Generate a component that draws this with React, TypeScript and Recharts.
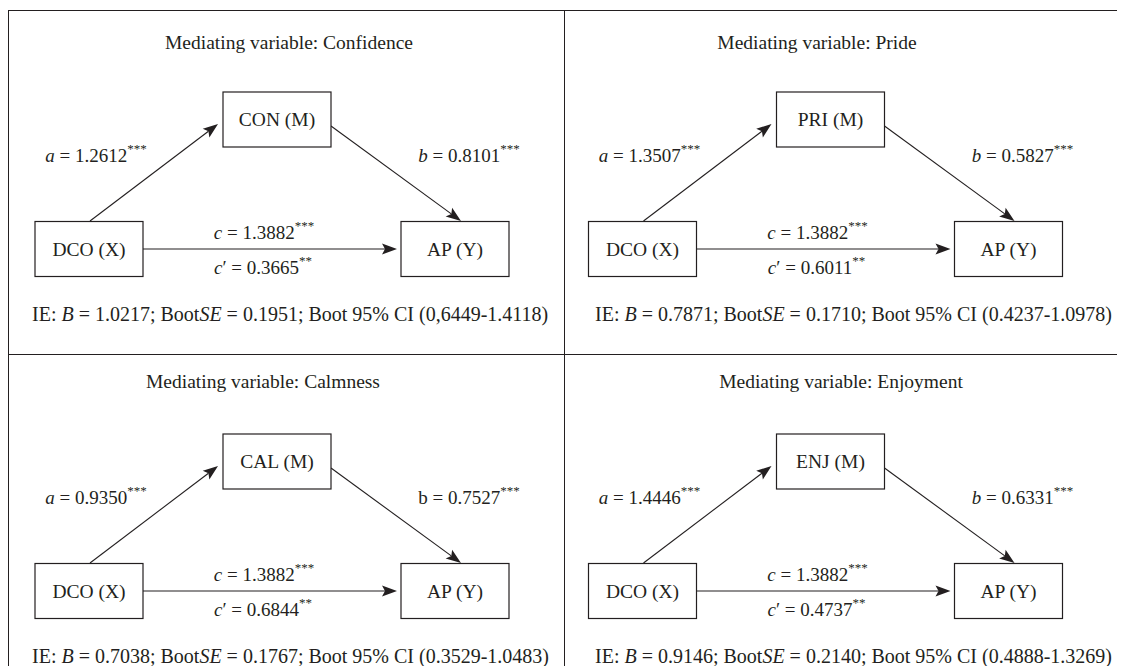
import React from "react";
import { ScatterChart, Scatter, XAxis, YAxis, ReferenceLine } from "recharts";

// values
const mediators = ["Confidence", "Pride", "Calmness", "Enjoyment"];
const mediatorCodes = ["CON", "PRI", "CAL", "ENJ"];
const pathA = [1.2612, 1.3507, 0.935, 1.4446];
const pathB = [0.8101, 0.5827, 0.7527, 0.6331];
const pathC = [1.3882, 1.3882, 1.3882, 1.3882];
const pathCPrime = [0.3665, 0.6011, 0.6844, 0.4737];
const indirectB = [1.0217, 0.7871, 0.7038, 0.9146];
const bootSE = [0.1951, 0.171, 0.1767, 0.214];
const ciLower = ["0,6449", "0.4237", "0.3529", "0.4888"];
const ciUpper = [1.4118, 1.0978, 1.0483, 1.3269];
const italicB = [true, true, false, true];

// layout (panel pixels)
const W = 561;
const H = 344;
const BOX_W = 108;
const BOX_H = 55;
const INK = "#231f20";
const FONT = "'Liberation Serif', 'DejaVu Serif', serif";
const panelOrigin = [
  [0, 2],
  [556, 2],
  [0, 346],
  [556, 346],
];
const panelShift = [
  [0, 0],
  [-2.5, 0],
  [0, -2],
  [-2.5, -2],
];
const titleX = [281, 253, 255, 277];
const titleY = [32, 32, 27, 27];
const ieX = [24, 31, 24, 31];

const Arrow = (props: any) => {
  const { x1, y1, x2, y2 } = props;
  const ang = Math.atan2(y2 - y1, x2 - x1);
  const L = 15;
  const hw = 5.5;
  const cos = Math.cos(ang);
  const sin = Math.sin(ang);
  const bx = x2 - L * cos;
  const by = y2 - L * sin;
  const nx = x2 - L * 0.8 * cos;
  const ny = y2 - L * 0.8 * sin;
  const px = -sin * hw;
  const py = cos * hw;
  return (
    <g>
      <line x1={x1} y1={y1} x2={nx} y2={ny} stroke={INK} strokeWidth={1.1} />
      <polygon
        points={`${x2},${y2} ${bx + px},${by + py} ${nx},${ny} ${bx - px},${by - py}`}
        fill={INK}
      />
    </g>
  );
};

const BoxShape = (props: any) => {
  const { cx, cy, payload } = props;
  return (
    <g>
      <rect
        x={cx - BOX_W / 2}
        y={cy - BOX_H / 2}
        width={BOX_W}
        height={BOX_H}
        fill="#fff"
        stroke={INK}
        strokeWidth={1.2}
      />
      <text
        x={cx}
        y={cy}
        textAnchor="middle"
        dominantBaseline="central"
        fontFamily={FONT}
        fontSize={19.5}
        fill={INK}
      >
        {payload.text}
      </text>
    </g>
  );
};

const TextShape = (props: any) => {
  const { cx, cy, payload } = props;
  const common = {
    x: cx,
    y: cy,
    dominantBaseline: "central" as const,
    fontFamily: FONT,
    fill: INK,
  };
  if (payload.kind === "title") {
    return (
      <text {...common} textAnchor="middle" fontSize={19.5}>
        {payload.text}
      </text>
    );
  }
  if (payload.kind === "ie") {
    const i = payload.i;
    return (
      <text {...common} textAnchor="start" fontSize={20}>
        IE: <tspan fontStyle="italic">B</tspan> = {indirectB[i].toFixed(4)}; Boot
        <tspan fontStyle="italic">SE</tspan> = {bootSE[i].toFixed(4)}; Boot 95% CI (
        {ciLower[i]}-{ciUpper[i].toFixed(4)})
      </text>
    );
  }
  // coefficient label
  return (
    <text {...common} textAnchor="middle" fontSize={19}>
      <tspan fontStyle={payload.italic ? "italic" : "normal"}>{payload.sym}</tspan>
      {payload.prime ? "′" : ""} = {payload.val.toFixed(4)}
      <tspan dy={-7} fontSize={13}>
        {payload.stars}
      </tspan>
    </text>
  );
};

const Panel = ({ i }: { i: number }) => {
  const [dx, dy] = panelShift[i];
  const p = (x: number, y: number) => ({ x: x + dx, y: y + dy });
  const boxes = [
    { ...p(81, 239), text: "DCO (X)" },
    { ...p(269, 109.5), text: `${mediatorCodes[i]} (M)` },
    { ...p(447, 239), text: "AP (Y)" },
  ];
  const texts = [
    { x: titleX[i], y: titleY[i], kind: "title", text: `Mediating variable: ${mediators[i]}` },
    { ...p(88, 145), kind: "coef", sym: "a", italic: true, val: pathA[i], stars: "***" },
    { ...p(461, 145), kind: "coef", sym: "b", italic: italicB[i], val: pathB[i], stars: "***" },
    { ...p(256, 222), kind: "coef", sym: "c", italic: true, val: pathC[i], stars: "***" },
    { ...p(255, 257), kind: "coef", sym: "c", prime: true, italic: true, val: pathCPrime[i], stars: "**" },
    { x: ieX[i], y: 304 + dy, kind: "ie", i },
  ];
  const arrows = [
    [p(82, 211), p(210, 114)],
    [p(323, 116), p(453, 211)],
    [p(135, 239), p(389, 239)],
  ];
  return (
    <ScatterChart width={W} height={H} margin={{ top: 0, right: 0, bottom: 0, left: 0 }}>
      <XAxis type="number" dataKey="x" domain={[0, W]} allowDataOverflow hide height={0} />
      <YAxis type="number" dataKey="y" domain={[0, H]} allowDataOverflow reversed hide width={0} />
      {arrows.map((seg, k) => (
        <ReferenceLine key={k} segment={seg} ifOverflow="visible" shape={Arrow} />
      ))}
      <Scatter data={boxes} shape={BoxShape} isAnimationActive={false} />
      <Scatter data={texts} shape={TextShape} isAnimationActive={false} />
    </ScatterChart>
  );
};

const line = (style: React.CSSProperties): React.CSSProperties => ({
  position: "absolute",
  background: INK,
  ...style,
});

export default function App() {
  return (
    <div style={{ position: "relative", width: 1117, height: 658, overflow: "hidden", background: "#fff" }}>
      <style>{"html,body{overflow:hidden;}"}</style>
      {[0, 1, 2, 3].map((i) => (
        <div
          key={i}
          style={{ position: "absolute", left: panelOrigin[i][0], top: panelOrigin[i][1], width: W, height: H }}
        >
          <Panel i={i} />
        </div>
      ))}
      <div style={line({ left: 0, top: 2, width: 1117, height: 1.4 })} />
      <div style={line({ left: 0, top: 2, width: 1.4, height: 656 })} />
      <div style={line({ left: 556, top: 2, width: 1.4, height: 656 })} />
      <div style={line({ left: 0, top: 346, width: 1117, height: 1.4 })} />
    </div>
  );
}
